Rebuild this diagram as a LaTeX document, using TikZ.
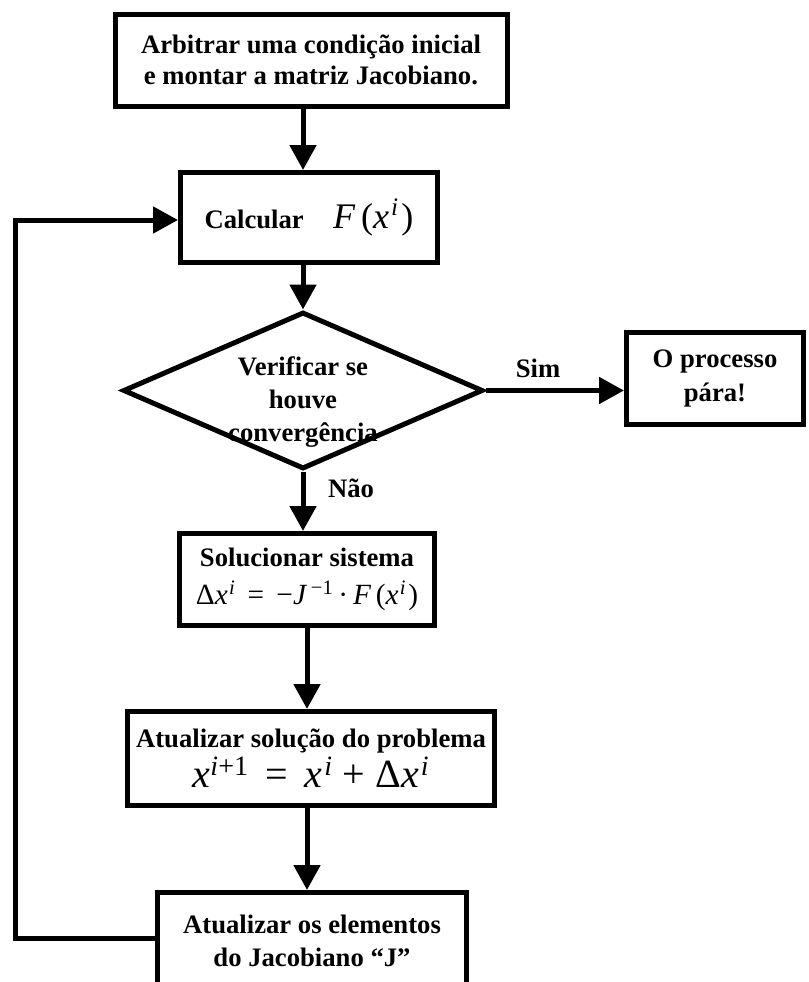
\documentclass[tikz,border=0pt]{standalone}
\usepackage{fontspec}
\setmainfont{Liberation Serif}
\usetikzlibrary{shapes.geometric,arrows.meta,calc}
\newcommand\mvar[1]{{\itshape #1}}
\newcommand\msup[1]{\textsuperscript{\itshape #1}}
\begin{document}
\begin{tikzpicture}[x=0.75pt,y=-0.75pt,
  box/.style={draw, line width=3.75pt, inner sep=0pt, align=center,
    font=\bfseries\fontsize{20}{23}\selectfont},
  arr/.style={line width=3.75pt, -{Triangle[length=18.75pt,width=19.5pt]}},
  ln/.style={line width=3.75pt},
  lbl/.style={font=\bfseries\fontsize{20}{23}\selectfont, inner sep=0pt, align=center}]
\useasboundingbox (0,0) rectangle (808,982);
\clip (0,0) rectangle (808,982);
\fill[white] (0,0) rectangle (808,982);

\node[box, minimum width=294pt, minimum height=69pt] (top) at (311,60)
  {Arbitrar uma condição inicial\\e montar a matriz Jacobiano.};

\node[box, minimum width=192.75pt, minimum height=67.5pt] (calc) at (309,217.5)
  {Calcular\hspace{22pt}{\mdseries\fontsize{27}{27}\selectfont\mvar{F}\,(\mvar{x}\msup{\hspace{1.5pt}i}\hspace{2pt})}};

\node[draw, shape=diamond, line width=3.75pt, inner sep=0pt,
  minimum width=270pt, minimum height=117.75pt] (dia) at (303,390.5) {};
\node[lbl, font=\bfseries\fontsize{20}{24.5}\selectfont] (diatxt) at (303,402)
  {Verificar se\\houve\\convergência};

\node[box, minimum width=132.75pt, minimum height=69pt,
  font=\bfseries\fontsize{20}{25}\selectfont] (proc) at (715,378.5)
  {O processo\\pára!};

\node[box, minimum width=191.25pt, minimum height=69pt] (sol) at (307,579.5)
  {Solucionar sistema\\[5pt]
   {\mdseries\fontsize{22}{23}\selectfont Δ\mvar{x}\msup{\hspace{1pt}i} \,=\, −\mvar{J}\,\msup{\upshape −1}\,·\,\mvar{F}\,(\mvar{x}\msup{\hspace{1pt}i}\hspace{1.5pt})}};

\node[box, minimum width=275.25pt, minimum height=70.5pt] (atu) at (311,758.5)
  {Atualizar solução do problema\\[2pt]
   {\mdseries\fontsize{30}{30}\selectfont \mvar{x}\msup{i\upshape+1} \,=\, \mvar{x}\msup{\hspace{1.5pt}i} + Δ\mvar{x}\msup{\hspace{1.5pt}i}}};

\node[draw, line width=3.75pt, minimum width=231.75pt, minimum height=80.25pt,
  inner sep=0pt] (bot) at (312,946) {};
\node[lbl, font=\bfseries\fontsize{20}{25}\selectfont] (bottxt) at (312,941)
  {Atualizar os elementos\\do Jacobiano “J”};

\draw[arr] (top.south -| dia.north) -- (calc.north -| dia.north);
\draw[arr] (calc.south -| dia.north) -- (dia.north);
\draw[arr] (dia.east) -- (dia.east -| proc.west);
\draw[arr] (dia.south) -- (sol.north -| dia.south);
\draw[arr] (sol.south) -- (atu.north -| sol.south);
\draw[arr] (atu.south -| sol.south) -- (bot.north -| sol.south);

\coordinate (loopA) at (15,938);
\coordinate (loopB) at (15,220);
\draw[arr] (loopA -| bot.west) -- (loopA) -- (loopB) -- (loopB -| calc.west);

\node[lbl] (sim) at (538,368) {Sim};
\node[lbl] (nao) at (351,488) {Não};
\end{tikzpicture}
\end{document}
